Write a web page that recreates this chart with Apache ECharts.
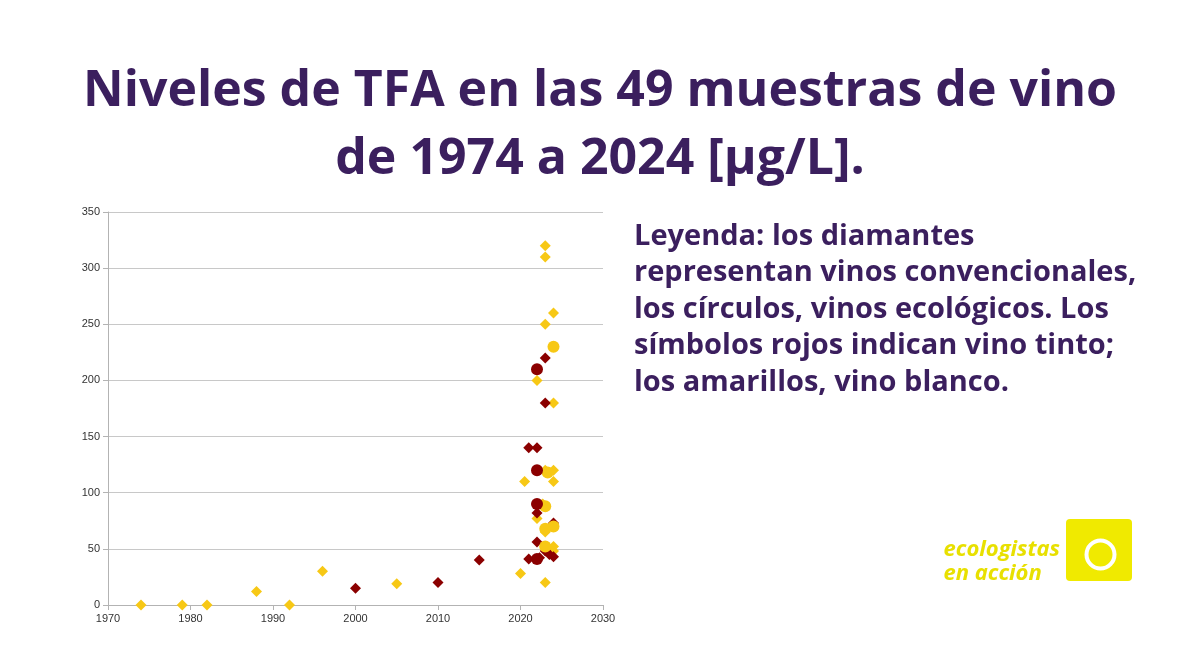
<!DOCTYPE html>
<html lang="es">
<head>
<meta charset="UTF-8">
<title>TFA vino</title>
<script src="https://cdn.jsdelivr.net/npm/echarts@6/dist/echarts.min.js"></script>
<style>body{margin:0;background:#fff}</style>
</head>
<body>
<div id="main" style="width:1200px;height:650px;"></div>
<script>
// [year, TFA µg/L]
var blancoConv = [[1974,0],[1979,0],[1982,0],[1988,12],[1992,0],[1996,30],[2005,19],[2020,28],[2020.5,110],
  [2022,200],[2022,77],[2022.7,90],[2023,320],[2023,310],[2023,250],[2024,260],[2024,180],[2023,120],[2024,120],
  [2024,110],[2023,20],[2024,48],[2023,65],[2024,52]];
var tintoConv = [[2000,15],[2010,20],[2015,40],[2021,140],[2022,140],[2023,220],[2023,180],[2022,82],[2022,56],
  [2021,41],[2024,73],[2024,43],[2023,48],[2022.3,42],[2023.5,45]];
var tintoEco = [[2022,210],[2022,120],[2022,90],[2022,41]];
var blancoEco = [[2024,230],[2023,88],[2023,68],[2024,70],[2023,52],[2023.3,118]];
var yellow = '#f7c815', red = '#8b0000';

var chart = echarts.init(document.getElementById('main'));
function s(data, sym, col, size){
  return {type:'scatter', data:data, symbol:sym, symbolSize:size, itemStyle:{color:col, opacity:1}};
}
chart.setOption({
  animation:false,
  grid:{left:108, right:597, top:212, bottom:45},
  xAxis:{type:'value', min:1970, max:2030, interval:10,
    axisLine:{lineStyle:{color:'#b3b3b3'}}, axisTick:{show:true, lineStyle:{color:'#b3b3b3'}},
    axisLabel:{color:'#333', fontSize:11, fontFamily:'Liberation Sans', formatter:function(v){return String(v);}},
    splitLine:{show:false}},
  yAxis:{type:'value', min:0, max:350, interval:50,
    axisLine:{show:true, lineStyle:{color:'#b3b3b3'}}, axisTick:{show:true, lineStyle:{color:'#b3b3b3'}},
    axisLabel:{color:'#333', fontSize:11, fontFamily:'Liberation Sans'}, splitLine:{lineStyle:{color:'#c8c8c8'}}},
  series:[
    s(blancoConv,'diamond',yellow,11),
    s(tintoConv,'diamond',red,11),
    s(blancoEco,'circle',yellow,12),
    s(tintoEco,'circle',red,12)
  ],
  graphic:[
    {type:'text', x:600, y:58, style:{text:'Niveles de TFA en las 49 muestras de vino\nde 1974 a 2024 [µg/L].',
      fill:'#3b1f5e', font:'bold 50px "Open Sans"', align:'center', lineHeight:68}},
    {type:'text', left:634, top:218, style:{text:'Leyenda: los diamantes\nrepresentan vinos convencionales,\nlos círculos, vinos ecológicos. Los\nsímbolos rojos indican vino tinto;\nlos amarillos, vino blanco.',
      fill:'#3b1f5e', font:'bold 29px "Open Sans"', lineHeight:36.5}},
    {type:'text', right:140, top:538, style:{text:'ecologistas\nen acción', fill:'#e8e000',
      font:'italic bold 22px "Open Sans"', align:'right', lineHeight:24}},
    {type:'rect', left:1066, top:519, shape:{width:66, height:62, r:4}, style:{fill:'#f0ea00'}},
    {type:'circle', left:1084, top:538, shape:{r:14}, style:{fill:'none', stroke:'#fff', lineWidth:4}}
  ]
});
</script>
</body>
</html>
